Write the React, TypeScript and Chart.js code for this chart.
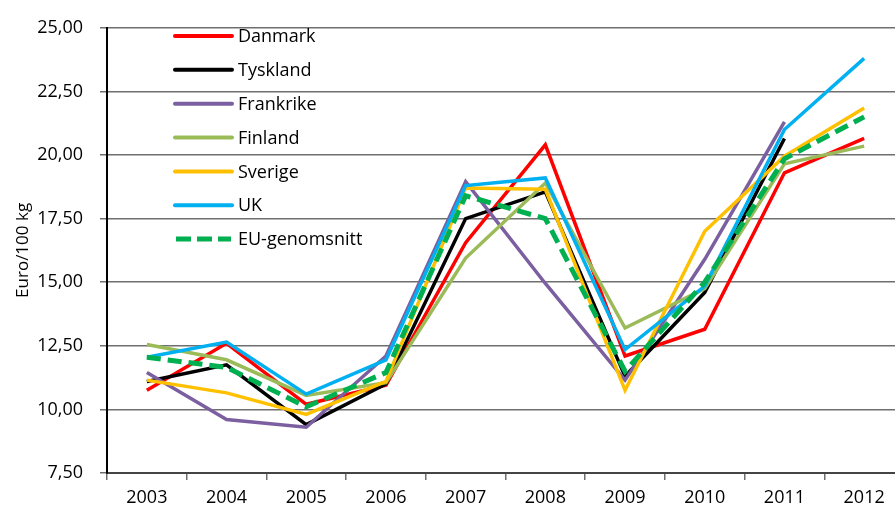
import React, { useEffect, useRef } from "react";
import { Chart, registerables } from "chart.js";

Chart.register(...registerables);

const years = ["2003", "2004", "2005", "2006", "2007", "2008", "2009", "2010", "2011", "2012"];
const yTicks = [7.5, 10, 12.5, 15, 17.5, 20, 22.5, 25];

const danmark = [10.75, 12.6, 10.2, 10.95, 16.55, 20.4, 12.1, 13.15, 19.3, 20.65];
const tyskland = [11.1, 11.75, 9.4, 11.0, 17.5, 18.55, 11.3, 14.6, 20.65, null];
const frankrike = [11.45, 9.6, 9.3, 12.1, 18.95, 14.95, 11.15, 15.9, 21.3, null];
const finland = [12.55, 11.95, 10.55, 11.05, 15.95, 18.9, 13.2, 14.75, 19.65, 20.35];
const sverige = [11.15, 10.65, 9.8, 11.1, 18.7, 18.65, 10.75, 17.0, 19.95, 21.85];
const uk = [12.05, 12.65, 10.6, 11.95, 18.8, 19.1, 12.35, 14.85, 21.0, 23.8];
const eu = [12.05, 11.65, 10.1, 11.45, 18.4, 17.5, 11.5, 15.0, 19.85, 21.5];

const seriesNames = ["Danmark", "Tyskland", "Frankrike", "Finland", "Sverige", "UK", "EU-genomsnitt"];
const seriesValues = [danmark, tyskland, frankrike, finland, sverige, uk, eu];
const seriesColors = ["#FF0000", "#000000", "#7B5FA0", "#9BBB59", "#FFC000", "#00B0F0", "#00B050"];

const FONT = "'Open Sans', 'Noto Sans', sans-serif";

const legendPlugin = {
  id: "inlineLegend",
  afterDraw(chart: any) {
    const ctx = chart.ctx;
    ctx.save();
    chart.data.datasets.forEach((ds: any, i: number) => {
      const y = 36 + i * 33.85;
      ctx.beginPath();
      ctx.strokeStyle = ds.borderColor;
      ctx.lineWidth = ds.borderDash ? 5 : 4;
      ctx.lineCap = ds.borderDash ? "butt" : "round";
      ctx.setLineDash(ds.borderDash ? [15, 6] : []);
      ctx.moveTo(ds.borderDash ? 176 : 175, y);
      ctx.lineTo(ds.borderDash ? 231 : 232, y);
      ctx.stroke();
      ctx.setLineDash([]);
      ctx.fillStyle = "#000";
      ctx.font = `18px ${FONT}`;
      ctx.textBaseline = "middle";
      ctx.textAlign = "left";
      ctx.fillText(ds.label, 238, y + 1);
    });
    ctx.restore();
  },
};

export default function App() {
  const ref = useRef<HTMLCanvasElement>(null);
  useEffect(() => {
    if (!ref.current) return;
    const datasets = seriesNames.map((name, i) => ({
      label: name,
      data: seriesValues[i],
      borderColor: seriesColors[i],
      backgroundColor: seriesColors[i],
      borderWidth: i === 6 ? 5 : 3.5,
      borderDash: i === 6 ? [14, 7] : undefined,
      pointRadius: 0,
      tension: 0,
      fill: false,
      spanGaps: false,
      order: 6 - i,
      borderCapStyle: "butt" as const,
      borderJoinStyle: "miter" as const,
    }));
    const chart = new Chart(ref.current, {
      type: "line",
      data: { labels: years, datasets },
      options: {
        animation: false,
        responsive: false,
        devicePixelRatio: 1,
        layout: { padding: { left: 13, top: 23, right: 0, bottom: 0 } },
        plugins: { legend: { display: false }, tooltip: { enabled: false } },
        scales: {
          x: {
            offset: true,
            grid: {
              offset: true,
              drawOnChartArea: false,
              drawTicks: true,
              tickLength: 7,
              color: "#6f6f6f",
              lineWidth: 1.5,
            },
            border: { color: "#444", width: 2 },
            ticks: { color: "#000", font: { family: FONT, size: 18 }, padding: 7, maxRotation: 0 },
            afterFit(scale: any) {
              scale.height = 38;
            },
          },
          y: {
            min: 7.5,
            max: 25,
            afterBuildTicks(scale: any) {
              scale.ticks = yTicks.map((v) => ({ value: v }));
            },
            grid: { color: "#6f6f6f", lineWidth: 1.5, tickLength: 7, drawTicks: true },
            border: { color: "#000", width: 2 },
            ticks: {
              color: "#000",
              font: { family: FONT, size: 18 },
              padding: 17,
              callback: (v: any) => Number(v).toFixed(2).replace(".", ","),
            },
            title: {
              display: true,
              text: "Euro/100 kg",
              color: "#000",
              font: { family: FONT, size: 17 },
              padding: 0,
            },
            afterFit(scale: any) {
              scale.width = 94;
            },
          },
        },
      },
      plugins: [legendPlugin],
    });
    return () => chart.destroy();
  }, []);
  return (
    <div
      style={{
        position: "fixed",
        left: 0,
        top: 0,
        width: 895,
        height: 511,
        overflow: "hidden",
        background: "#fff",
      }}
    >
      <canvas ref={ref} width={904} height={511} style={{ display: "block" }} />
    </div>
  );
}
